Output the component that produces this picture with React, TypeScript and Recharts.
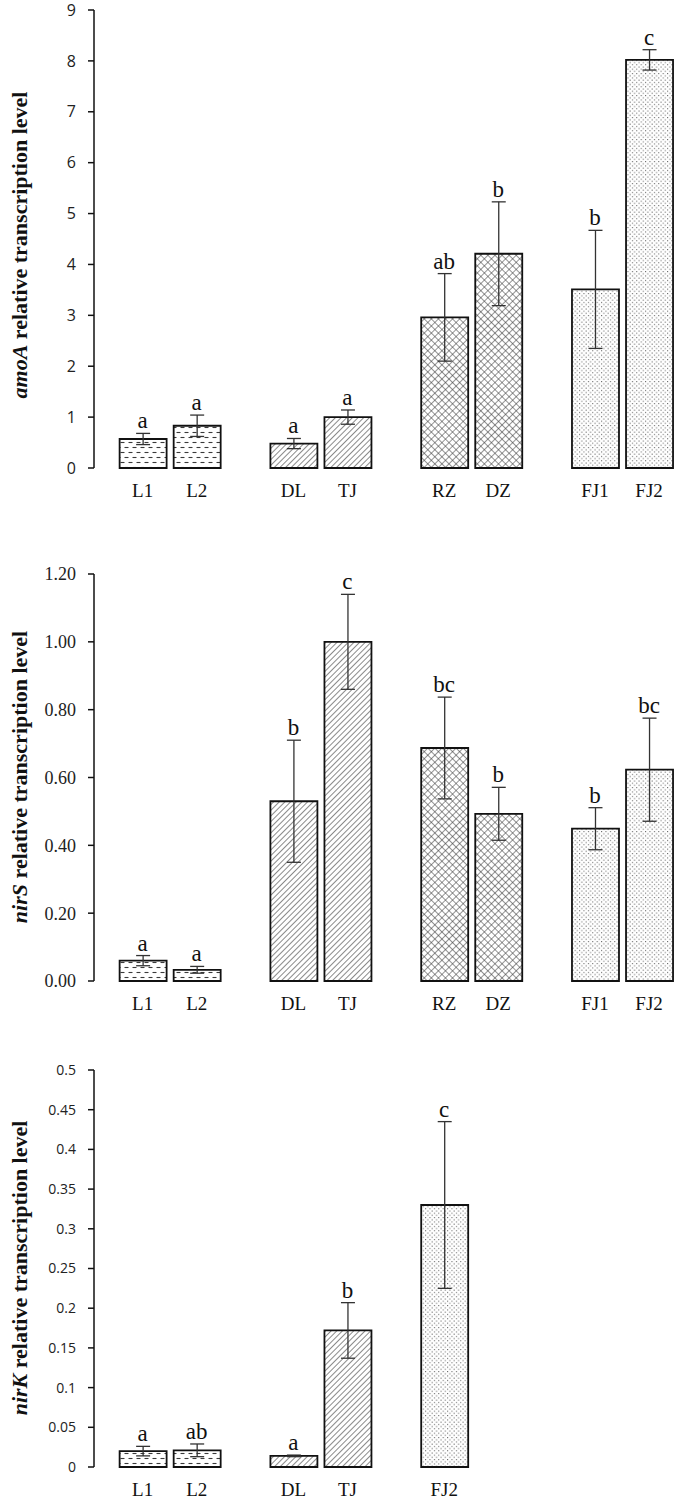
import { Bar, Cell, ComposedChart, ErrorBar, Scatter, XAxis, YAxis } from 'recharts'

// amoA
const amoaNames = ['L1', 'L2', 'DL', 'TJ', 'RZ', 'DZ', 'FJ1', 'FJ2']
const amoaFamily = [0, 0, 1, 1, 2, 2, 3, 3]
const amoaMeans = [0.57, 0.83, 0.48, 1.0, 2.96, 4.21, 3.51, 8.02]
const amoaErr = [0.11, 0.21, 0.1, 0.14, 0.86, 1.02, 1.16, 0.2]
const amoaLetters = ['a', 'a', 'a', 'a', 'ab', 'b', 'b', 'c']
const amoaTicks = [0, 1, 2, 3, 4, 5, 6, 7, 8, 9]

// nirS
const nirsNames = ['L1', 'L2', 'DL', 'TJ', 'RZ', 'DZ', 'FJ1', 'FJ2']
const nirsFamily = [0, 0, 1, 1, 2, 2, 3, 3]
const nirsMeans = [0.06, 0.033, 0.53, 1.0, 0.687, 0.493, 0.449, 0.623]
const nirsErr = [0.015, 0.01, 0.18, 0.14, 0.15, 0.078, 0.062, 0.152]
const nirsLetters = ['a', 'a', 'b', 'c', 'bc', 'b', 'b', 'bc']
const nirsTicks = [0, 0.2, 0.4, 0.6, 0.8, 1.0, 1.2]

// nirK
const nirkNames = ['L1', 'L2', 'DL', 'TJ', 'FJ2']
const nirkFamily = [0, 0, 1, 1, 3]
const nirkMeans = [0.02, 0.021, 0.014, 0.172, 0.33]
const nirkErr = [0.006, 0.008, 0.001, 0.035, 0.105]
const nirkLetters = ['a', 'ab', 'a', 'b', 'c']
const nirkTicks = [0, 0.05, 0.1, 0.15, 0.2, 0.25, 0.3, 0.35, 0.4, 0.45, 0.5]

const GROUP_STEP = 2.79
const SERIF = '"Liberation Serif", "Times New Roman", serif'
const SANS = '"Open Sans", Calibri, sans-serif'

function buildRows(names: string[], family: number[], means: number[], errs: number[], letters: string[]) {
  const rows: any[] = []
  let order = -1
  let slot = 0
  names.forEach((name, i) => {
    if (i === 0 || family[i] !== family[i - 1]) {
      order++
      slot = 0
    } else {
      slot++
    }
    rows.push({
      name,
      family: family[i],
      pos: order * GROUP_STEP + slot,
      value: means[i],
      err: errs[i],
      errTop: means[i] + errs[i],
      letter: letters[i],
    })
  })
  return rows
}

function Patterns({ id }: { id: string }) {
  const ink = '#3a3a3a'
  return (
    <defs>
      <pattern id={`${id}-0`} patternUnits="userSpaceOnUse" width="8" height="10">
        <rect width="8" height="10" fill="#fff" />
        <line x1="0.5" y1="2.5" x2="4.5" y2="2.5" stroke={ink} strokeWidth="1.1" />
        <line x1="4.5" y1="7.5" x2="8" y2="7.5" stroke={ink} strokeWidth="1.1" />
        <line x1="0" y1="7.5" x2="0.5" y2="7.5" stroke={ink} strokeWidth="1.1" />
      </pattern>
      <pattern id={`${id}-1`} patternUnits="userSpaceOnUse" width="4" height="4" patternTransform="rotate(45)">
        <rect width="4" height="4" fill="#fff" />
        <line x1="0" y1="0" x2="0" y2="4" stroke={ink} strokeWidth="1.2" />
      </pattern>
      <pattern id={`${id}-2`} patternUnits="userSpaceOnUse" width="5" height="5" patternTransform="rotate(45)">
        <rect width="5" height="5" fill="#fff" />
        <line x1="0" y1="0" x2="0" y2="5" stroke={ink} strokeWidth="1.1" />
        <line x1="0" y1="0" x2="5" y2="0" stroke={ink} strokeWidth="1.1" />
      </pattern>
      <pattern id={`${id}-3`} patternUnits="userSpaceOnUse" width="4.4" height="4.4">
        <rect width="4.4" height="4.4" fill="#fff" />
        <rect x="0.5" y="0.5" width="1" height="1" fill="#555" />
        <rect x="2.7" y="2.7" width="1" height="1" fill="#555" />
      </pattern>
    </defs>
  )
}

type PanelProps = {
  id: string
  rows: any[]
  top: number
  height: number
  marginTop: number
  xAxisHeight: number
  yTicks: number[]
  yFormat: (v: number) => string
  yFont: string
  yFontSize: number
  gene: string
  labelY: number
}

function Panel({ id, rows, top, height, marginTop, xAxisHeight, yTicks, yFormat, yFont, yFontSize, gene, labelY }: PanelProps) {
  const positions = rows.map((r) => r.pos)
  const letterShape = (p: any) => (
    <text x={p.cx} y={p.cy - 5} textAnchor="middle" fontFamily={SERIF} fontSize={23} fill="#111">
      {p.payload.letter}
    </text>
  )
  const yLabel = () => (
    <text
      x={27}
      y={labelY}
      transform={`rotate(-90, 27, ${labelY})`}
      textAnchor="middle"
      fontFamily={SERIF}
      fontWeight="bold"
      fontSize={22}
      fill="#111"
    >
      <tspan fontStyle="italic">{gene}</tspan> relative transcription level
    </text>
  )
  return (
    <div style={{ position: 'absolute', left: 0, top, width: 675, height }}>
      <ComposedChart width={675} height={height} data={rows} margin={{ top: marginTop, right: 0, bottom: 0, left: 0 }}>
        <Patterns id={id} />
        <XAxis
          dataKey="pos"
          type="number"
          domain={[-0.9, 9.85]}
          ticks={positions}
          interval={0}
          tickFormatter={(_v: number, i: number) => rows[i]?.name ?? ''}
          axisLine={false}
          tickLine={false}
          tickSize={0}
          tickMargin={16}
          height={xAxisHeight}
          tick={{ fontFamily: SERIF, fontSize: 19, fill: '#111' }}
        />
        <YAxis
          type="number"
          domain={[yTicks[0], yTicks[yTicks.length - 1]]}
          ticks={yTicks}
          interval={0}
          tickFormatter={yFormat}
          width={94}
          axisLine={{ stroke: '#111', strokeWidth: 1.5 }}
          tickLine={{ stroke: '#111', strokeWidth: 1.5 }}
          tickSize={6}
          tickMargin={12}
          tick={{ fontFamily: yFont, fontSize: yFontSize, fill: '#222' }}
          label={{ content: yLabel }}
        />
        <Bar dataKey="value" barSize={47} stroke="#111" strokeWidth={1.8} isAnimationActive={false}>
          {rows.map((r, i) => (
            <Cell key={i} fill={`url(#${id}-${r.family})`} />
          ))}
          <ErrorBar dataKey="err" width={7} stroke="#333" strokeWidth={1.3} direction="y" />
        </Bar>
        <Scatter dataKey="errTop" shape={letterShape} isAnimationActive={false} />
      </ComposedChart>
    </div>
  )
}

export default function App() {
  const amoa = buildRows(amoaNames, amoaFamily, amoaMeans, amoaErr, amoaLetters)
  const nirs = buildRows(nirsNames, nirsFamily, nirsMeans, nirsErr, nirsLetters)
  const nirk = buildRows(nirkNames, nirkFamily, nirkMeans, nirkErr, nirkLetters)

  return (
    <div style={{ position: 'absolute', left: 0, top: 0, width: 675, height: 1502, background: '#fff' }}>
      <Panel
        id="amoa"
        rows={amoa}
        top={0}
        height={510}
        marginTop={10}
        xAxisHeight={42}
        yTicks={amoaTicks}
        yFormat={(v) => String(v)}
        yFont={SANS}
        yFontSize={16}
        gene="amoA"
        labelY={245}
      />
      <Panel
        id="nirs"
        rows={nirs}
        top={560}
        height={461}
        marginTop={14}
        xAxisHeight={40}
        yTicks={nirsTicks}
        yFormat={(v) => v.toFixed(2)}
        yFont={SERIF}
        yFontSize={18}
        gene="nirS"
        labelY={217}
      />
      <Panel
        id="nirk"
        rows={nirk}
        top={1056}
        height={446}
        marginTop={14}
        xAxisHeight={35}
        yTicks={nirkTicks}
        yFormat={(v) => String(v)}
        yFont={SANS}
        yFontSize={14}
        gene="nirK"
        labelY={212}
      />
    </div>
  )
}
